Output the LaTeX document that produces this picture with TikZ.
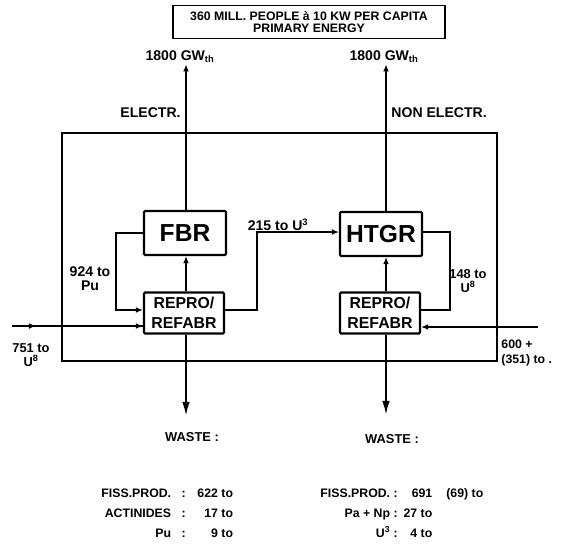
\documentclass[tikz,border=0pt]{standalone}
\usepackage{fontspec}
\setmainfont{Liberation Sans}
\usetikzlibrary{arrows.meta,positioning}

\begin{document}
\begin{tikzpicture}[x=0.03cm,y=-0.03cm,
    unit/.style={draw,line width=1.8pt,rounded corners=1pt,inner sep=0pt},
    pipe/.style={line width=1.8pt},
    flow/.style={pipe,-{Latex[length=6pt,width=5pt]}},
    dump/.style={pipe,-{Latex[length=12pt,width=6.5pt]}},
    lbl/.style={font=\bfseries\fontsize{12}{12}\selectfont,inner sep=1pt,align=center},
    small/.style={lbl,font=\bfseries\fontsize{11}{12}\selectfont}]
  \useasboundingbox (0,0) rectangle (568,550);

  % demand box
  \node[draw,line width=1.5pt,minimum width=8.16cm,minimum height=0.99cm,
        inner sep=1pt,align=center,font=\bfseries\fontsize{10.5}{11}\selectfont] (demand) at (309,22)
        {360 MILL. PEOPLE à 10 KW PER CAPITA\\PRIMARY ENERGY};

  % reactors and reprocessing plants
  \node[unit,minimum width=2.46cm,minimum height=1.32cm,font=\bfseries\fontsize{21}{21}\selectfont] (FBR) at (185,233) {FBR};
  \node[unit,minimum width=2.46cm,minimum height=1.32cm,font=\bfseries\fontsize{21}{21}\selectfont] (HTGR) at (381,234) {HTGR};
  \node[unit,minimum width=2.4cm,minimum height=1.23cm,align=center,
        font=\bfseries\fontsize{13.5}{17}\selectfont] (RepL) at (184,313) {REPRO/\\REFABR};
  \node[unit,minimum width=2.4cm,minimum height=1.23cm,align=center,
        font=\bfseries\fontsize{13.5}{17}\selectfont] (RepR) at (380,313) {REPRO/\\REFABR};
  \coordinate (xr) at (386,0);

  % outer frame
  \draw[pipe] (62,133) rectangle (497,361);

  % energy output
  \node[lbl] (outL) at (180,57) {1800 GW\textsubscript{th}};
  \node[lbl] (outR) at (384,57) {1800 GW\textsubscript{th}};
  \draw[flow] (FBR.north -| 186,0) -- (outL.south -| 186,0);
  \draw[flow] (HTGR.north -| xr) -- (outR.south -| xr);
  \node[lbl,anchor=east] (elec) at (182,113) {ELECTR.};
  \node[lbl,anchor=west] (nonelec) at (390,113) {NON ELECTR.};

  % FBR fuel cycle
  \draw[flow] (RepL.north -| 186,0) -- (FBR.south -| 186,0);
  \draw[flow] (FBR.west) -- (FBR.west -| 116,0) |- (RepL.west |- 0,310);
  \node[lbl] (puL) at (90,279) {924 to\\Pu};
  \coordinate (inL) at (12,326);
  \draw[pipe] (inL) -- (RepL.west |- inL);
  \draw[flow] (RepL.west |- inL) ++(-10,0) -- (RepL.west |- inL);
  \draw[flow] (inL) -- ++(24,0);
  \node[small] (u8L) at (31,355) {751 to\\U\textsuperscript{8}};

  % U3 transfer to HTGR
  \draw[flow] (RepL.east |- 0,310) -| (257,232) -- (HTGR.west |- 0,232);
  \node[lbl] (u3) at (278,225) {215 to U\textsuperscript{3}};

  % HTGR fuel cycle
  \draw[flow] (RepR.north -| xr) -- (HTGR.south -| xr);
  \draw[pipe] (HTGR.east |- 0,232) -| (450,310) -- (RepR.east |- 0,310);
  \node[small] (u8R) at (468,281) {148 to\\U\textsuperscript{8}};
  \coordinate (inR) at (538,327);
  \draw[flow] (inR) -- (RepR.east |- inR);
  \node[lbl,anchor=west,align=left,font=\bfseries\fontsize{10.5}{12}\selectfont] (thR) at (500,353) {600 +\\(351) to .};

  % waste streams
  \coordinate (wtipL) at (186,416);
  \coordinate (wtipR) at (386,415);
  \draw[dump] (RepL.south -| 186,0) -- (wtipL);
  \draw[dump] (RepR.south -| xr) -- (wtipR);
  \node[small] (wasteL) at (192,437) {WASTE :};
  \node[small] (wasteR) at (392,439) {WASTE :};

  % waste inventories
  \node[lbl,anchor=north west] (tabL) at (100,482)
    {\bfseries\fontsize{10.5}{17}\selectfont
     \begin{tabular}{@{}r@{\hspace{9pt}}c@{\hspace{10pt}}r@{}}
       FISS.PROD. & : & 622 to\\
       ACTINIDES  & : & 17 to\\
       Pu         & : & 9 to
     \end{tabular}};
  \node[lbl,anchor=north west] (tabR) at (319,482)
    {\bfseries\fontsize{10.5}{17}\selectfont
     \begin{tabular}{@{}r@{\hspace{3pt}}c@{\hspace{5pt}}r@{\hspace{12pt}}l@{}}
       FISS.PROD. & : & 691 & (69) to\\
       Pa + Np    & : & 27 to &\\
       U\textsuperscript{3} & : & 4 to &
     \end{tabular}};
\end{tikzpicture}
\end{document}
